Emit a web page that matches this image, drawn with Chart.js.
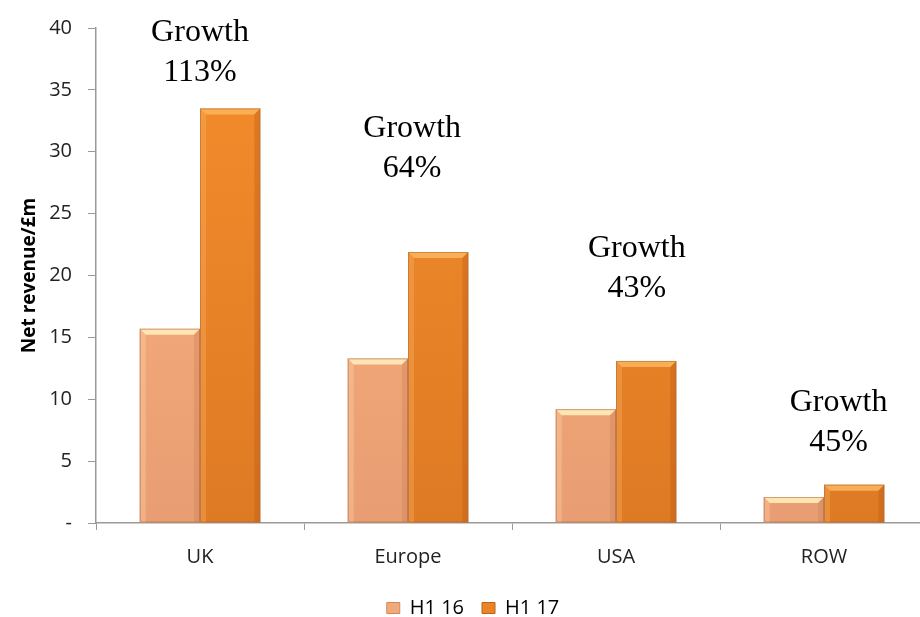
<!DOCTYPE html>
<html>
<head>
<meta charset="utf-8">
<script src="https://cdn.jsdelivr.net/npm/chart.js@4"></script>
<style>
  html, body { margin: 0; padding: 0; background: #fff; overflow: hidden; }
  #wrap { width: 928px; height: 617px; }
</style>
</head>
<body>
<div id="wrap"><canvas id="chart"></canvas></div>
<script>
const regions = ['UK', 'Europe', 'USA', 'ROW'];
const h116 = [15.7, 13.3, 9.2, 2.1];
const h117 = [33.5, 21.9, 13.1, 3.1];
const growthText = ['113%', '64%', '43%', '45%'];
// where each growth note sits: category position and data value of its second line
const noteX = [0, 1.02, 2.1, 3.07];
const noteY = [35.7, 27.95, 18.3, 5.8];

function vGrad(ctx, top, bottom) {
  const area = ctx.chart.chartArea;
  if (!area) return top;
  const g = ctx.chart.ctx.createLinearGradient(0, area.top, 0, area.bottom);
  g.addColorStop(0, top);
  g.addColorStop(1, bottom);
  return g;
}

const bevel = {
  id: 'bevel',
  afterDatasetsDraw(chart) {
    const c = chart.ctx;
    const tops = ['rgba(255,236,185,0.9)', 'rgba(252,178,90,0.9)'];
    const sides = ['rgba(255,225,190,0.3)', 'rgba(255,190,110,0.3)'];
    const darks = ['rgba(200,125,85,0.35)', 'rgba(180,90,20,0.35)'];
    chart.data.datasets.forEach((ds, di) => {
      chart.getDatasetMeta(di).data.forEach(bar => {
        const l = bar.x - bar.width / 2, r = bar.x + bar.width / 2;
        const t = bar.y, b = bar.base;
        const s = Math.min(6, (b - t) / 2);
        c.save();
        c.fillStyle = tops[di];
        c.beginPath();
        c.moveTo(l, t); c.lineTo(r, t); c.lineTo(r - s, t + s); c.lineTo(l + s, t + s);
        c.closePath(); c.fill();
        c.fillStyle = sides[di];
        c.beginPath();
        c.moveTo(l, t); c.lineTo(l + s, t + s); c.lineTo(l + s, b); c.lineTo(l, b);
        c.closePath(); c.fill();
        c.fillStyle = darks[di];
        c.beginPath();
        c.moveTo(r, t); c.lineTo(r - s, t + s); c.lineTo(r - s, b); c.lineTo(r, b);
        c.closePath(); c.fill();
        c.strokeStyle = 'rgba(170,100,60,0.55)';
        c.lineWidth = 1;
        c.strokeRect(l + 0.5, t + 0.5, bar.width - 1, b - t - 1);
        c.restore();
      });
    });
  }
};

const notes = {
  id: 'notes',
  afterDraw(chart) {
    const c = chart.ctx;
    const xs = chart.scales.x, ys = chart.scales.y;
    c.save();
    c.font = '32px "Liberation Serif"';
    c.fillStyle = '#000';
    c.textAlign = 'center';
    c.textBaseline = 'alphabetic';
    growthText.forEach((g, i) => {
      const x = xs.getPixelForValue(noteX[i]);
      const y = ys.getPixelForValue(noteY[i]);
      c.fillText('Growth', x, y - 40);
      c.fillText(g, x, y);
    });
    c.restore();
  }
};

new Chart(document.getElementById('chart'), {
  type: 'bar',
  data: {
    labels: regions,
    datasets: [
      {
        label: 'H1 16',
        data: h116,
        backgroundColor: ctx => vGrad(ctx, '#FFB585', '#E89D72'),
        borderWidth: 0
      },
      {
        label: 'H1 17',
        data: h117,
        backgroundColor: ctx => vGrad(ctx, '#F58D2C', '#DE7A24'),
        borderWidth: 0
      }
    ]
  },
  options: {
    responsive: true,
    maintainAspectRatio: false,
    animation: false,
    layout: { padding: { left: 18, top: 21, right: 0, bottom: -11 } },
    datasets: { bar: { categoryPercentage: 0.58, barPercentage: 1 } },
    plugins: {
      legend: {
        position: 'bottom',
        labels: {
          boxWidth: 13,
          boxHeight: 11,
          padding: 18,
          color: '#222',
          font: { family: 'Open Sans', size: 20 },
          generateLabels(chart) {
            const fills = ['#F3A877', '#EC8426'];
            return chart.data.datasets.map((ds, i) => ({
              text: ds.label,
              fillStyle: fills[i],
              strokeStyle: i ? '#B8651C' : '#C98A62',
              lineWidth: 1,
              datasetIndex: i
            }));
          }
        }
      },
      tooltip: { enabled: false }
    },
    scales: {
      x: {
        grid: { drawOnChartArea: false, tickLength: 7, color: '#999', offset: true },
        border: { color: '#999', width: 1.5 },
        ticks: { color: '#222', padding: 15, font: { family: 'Open Sans', size: 20 } },
        afterFit(scale) { scale.height = 57; }
      },
      y: {
        min: 0,
        max: 40,
        grid: { drawOnChartArea: false, tickLength: 8, color: '#999' },
        border: { color: '#999', width: 1.5 },
        ticks: {
          stepSize: 5,
          color: '#222',
          padding: 16,
          font: { family: 'Open Sans', size: 20 },
          callback: v => v === 0 ? '-' : v
        },
        title: {
          display: true,
          text: 'Net revenue/£m',
          color: '#000',
          padding: 0,
          font: { family: 'Open Sans', size: 19, weight: 'bold' }
        },
        afterFit(scale) { scale.width = 78; }
      }
    }
  },
  plugins: [bevel, notes]
});
</script>
</body>
</html>
